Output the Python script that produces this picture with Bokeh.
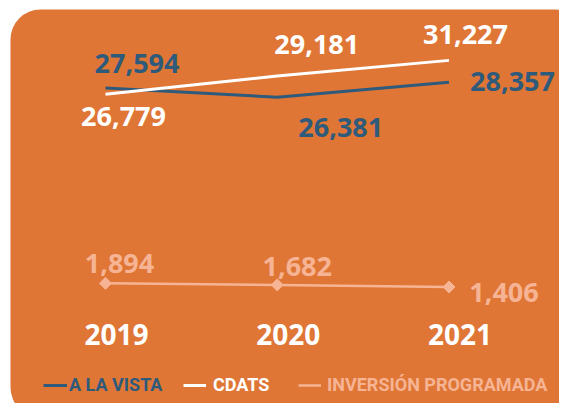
from bokeh.plotting import figure
from bokeh.models import Range1d, BoxAnnotation, Legend, LegendItem
from bokeh.core.properties import value
from bokeh.embed import file_html
from bokeh.resources import INLINE
import numpy as np

# ---------------- data ----------------
years = [2019, 2020, 2021]
year_labels = ["2019", "2020", "2021"]
a_la_vista = [27594, 26381, 28357]
cdats = [26779, 29181, 31227]
inversion = [1894, 1682, 1406]

series_names = ["A LA VISTA", "CDATS", "INVERSIÓN PROGRAMADA"]

# ---------------- styles / layout ----------------
ORANGE = "#DF7636"
BLUE = "#2E5A7B"
WHITE = "#FFFFFF"
PEACH = "#F6B494"

CW, CH = 559, 403
X0_PX, X_STEP = 105.0, 171.75     # canvas px of first year, px per year
Y0_PX, K = 297.2, 0.0076          # canvas px (from top) of value 0, px per unit


def xd(px):
    return years[0] + (px - X0_PX) / X_STEP


def yd(py):
    return (Y0_PX - py) / K


p = figure(width=CW, height=CH, output_backend="svg", toolbar_location=None,
           x_axis_type=None, y_axis_type=None,
           x_range=Range1d(xd(0), xd(CW)), y_range=Range1d(yd(CH), yd(0)),
           min_border=0, min_border_left=0, min_border_right=0,
           min_border_top=0, min_border_bottom=0)
p.outline_line_color = None
p.background_fill_color = "white"
p.border_fill_color = "white"

panel = BoxAnnotation(left=xd(10), right=xd(585), top=yd(9), bottom=yd(417),
                      fill_color=ORANGE, fill_alpha=1, line_color=None,
                      border_radius=30, level="underlay")
p.add_layout(panel)

r_blue = p.line(years, a_la_vista, line_color=BLUE, line_width=3)
r_white = p.line(years, cdats, line_color=WHITE, line_width=3)
r_peach = p.line(years, inversion, line_color=PEACH, line_width=2.5)
p.scatter(years, inversion, marker="square", angle=np.pi / 4, size=8.5,
          fill_color=PEACH, line_color=PEACH)

num_font = value("Open Sans")

# value labels (offsets in screen px)
blue_dx, blue_dy = [31.5, 63.5, 63.5], [-24, 30.3, -0.2]
white_dx, white_dy = [18, 39.5, 16.5], [22.8, -31.4, -25.4]
peach_dx, peach_dy = [14, 20, 55], [-19.8, -18.9, 5.5]

for vals, col, dx, dy in [(a_la_vista, BLUE, blue_dx, blue_dy),
                          (cdats, WHITE, white_dx, white_dy),
                          (inversion, PEACH, peach_dx, peach_dy)]:
    p.text(x=years, y=vals, text=[f"{v:,}" for v in vals],
           x_offset=dx, y_offset=dy, text_align="center",
           text_baseline="middle", text_font=num_font,
           text_font_style="bold", text_font_size="27px", text_color=col)

# year labels
p.text(x=years, y=[yd(333.5)] * len(years), text=year_labels, x_offset=11,
       text_align="center", text_baseline="middle", text_font=num_font,
       text_font_style="bold", text_font_size="28px", text_color=WHITE)

# legends (one per series so each label has its own colour)
leg_specs = [(r_blue, series_names[0], BLUE, 43, 24, 2),
             (r_white, series_names[1], WHITE, 183, 23, 7),
             (r_peach, series_names[2], PEACH, 298, 23, 6)]
for rend, name, col, lx, gw, so in leg_specs:
    lg = Legend(items=[LegendItem(label=name, renderers=[rend])],
                location=(lx, 8), orientation="horizontal",
                padding=0, margin=0, spacing=0,
                border_line_color=None, background_fill_alpha=0,
                glyph_width=gw, glyph_height=20, label_standoff=so,
                label_text_font="Roboto", label_text_font_style="bold",
                label_text_font_size="18px", label_text_color=col)
    p.add_layout(lg, "center")

open("out.html", "w").write(file_html(p, INLINE))
